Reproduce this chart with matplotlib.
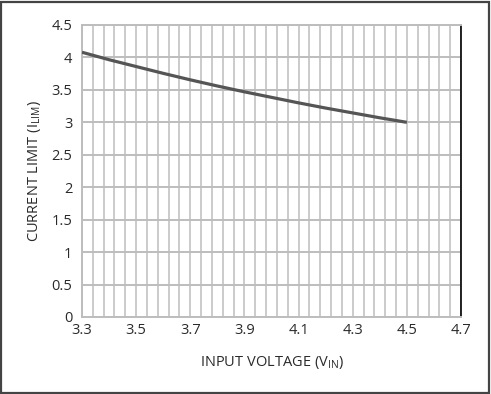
import matplotlib
matplotlib.use("Agg")
import matplotlib.pyplot as plt
import numpy as np
from matplotlib.patches import Rectangle

plt.rcParams['font.family'] = ['Open Sans', 'DejaVu Sans']
plt.rcParams['mathtext.fontset'] = 'custom'
plt.rcParams['mathtext.rm'] = 'Open Sans'

input_voltage = [3.3, 3.4, 3.5, 3.6, 3.7, 3.8, 3.9, 4.0, 4.1, 4.2, 4.3, 4.4, 4.5]
current_limit = [4.08, 3.965, 3.86, 3.755, 3.655, 3.56, 3.47, 3.385, 3.30, 3.22, 3.145, 3.07, 3.0]
x_ticks = [3.3, 3.5, 3.7, 3.9, 4.1, 4.3, 4.5, 4.7]
y_ticks = [0, 0.5, 1, 1.5, 2, 2.5, 3, 3.5, 4, 4.5]
x_tick_labels = ['3.3', '3.5', '3.7', '3.9', '4.1', '4.3', '4.5', '4.7']
y_tick_labels = ['0', '0.5', '1', '1.5', '2', '2.5', '3', '3.5', '4', '4.5']

fig = plt.figure(figsize=(4.91, 3.94), dpi=100)
ax = fig.add_axes([82/491, 77/394, 379/491, 292/394])

grid_c = '#bdbdbd'
vgrid = np.linspace(3.3, 4.7, 36)
for v in vgrid:
    ax.axvline(v, color=grid_c, lw=1.1, zorder=1)
for h in y_ticks:
    ax.axhline(h, color=grid_c, lw=1.4, zorder=1)

ax.plot(input_voltage, current_limit, color='#555555', lw=2.3, zorder=3,
        solid_capstyle='butt')

ax.set_xlim(3.3, 4.7)
ax.set_ylim(0, 4.5)
ax.set_xticks(x_ticks)
ax.set_xticklabels(x_tick_labels)
ax.set_yticks(y_ticks)
ax.set_yticklabels(y_tick_labels)
ax.tick_params(length=0, labelsize=10.5, colors='#2a2a2a')
ax.tick_params(axis='x', pad=4.5)
ax.tick_params(axis='y', pad=7)

for s in ['left', 'bottom', 'top']:
    ax.spines[s].set_color(grid_c)
    ax.spines[s].set_linewidth(1.4)
ax.spines['right'].set_color('black')
ax.spines['right'].set_linewidth(1.2)

ax.set_xlabel(r'INPUT VOLTAGE (V$_{\mathregular{IN}}$)', fontsize=10.5, labelpad=11, color='#2a2a2a')
ax.set_ylabel(r'CURRENT LIMIT (I$_{\mathregular{LIM}}$)', fontsize=10.5, labelpad=6, color='#2a2a2a')

fig.patches.append(Rectangle((1/491, 1.5/394), 488/491, 391/394, transform=fig.transFigure,
                             fill=False, edgecolor='#444444', lw=1.6))

fig.savefig('out.png', dpi=100)
